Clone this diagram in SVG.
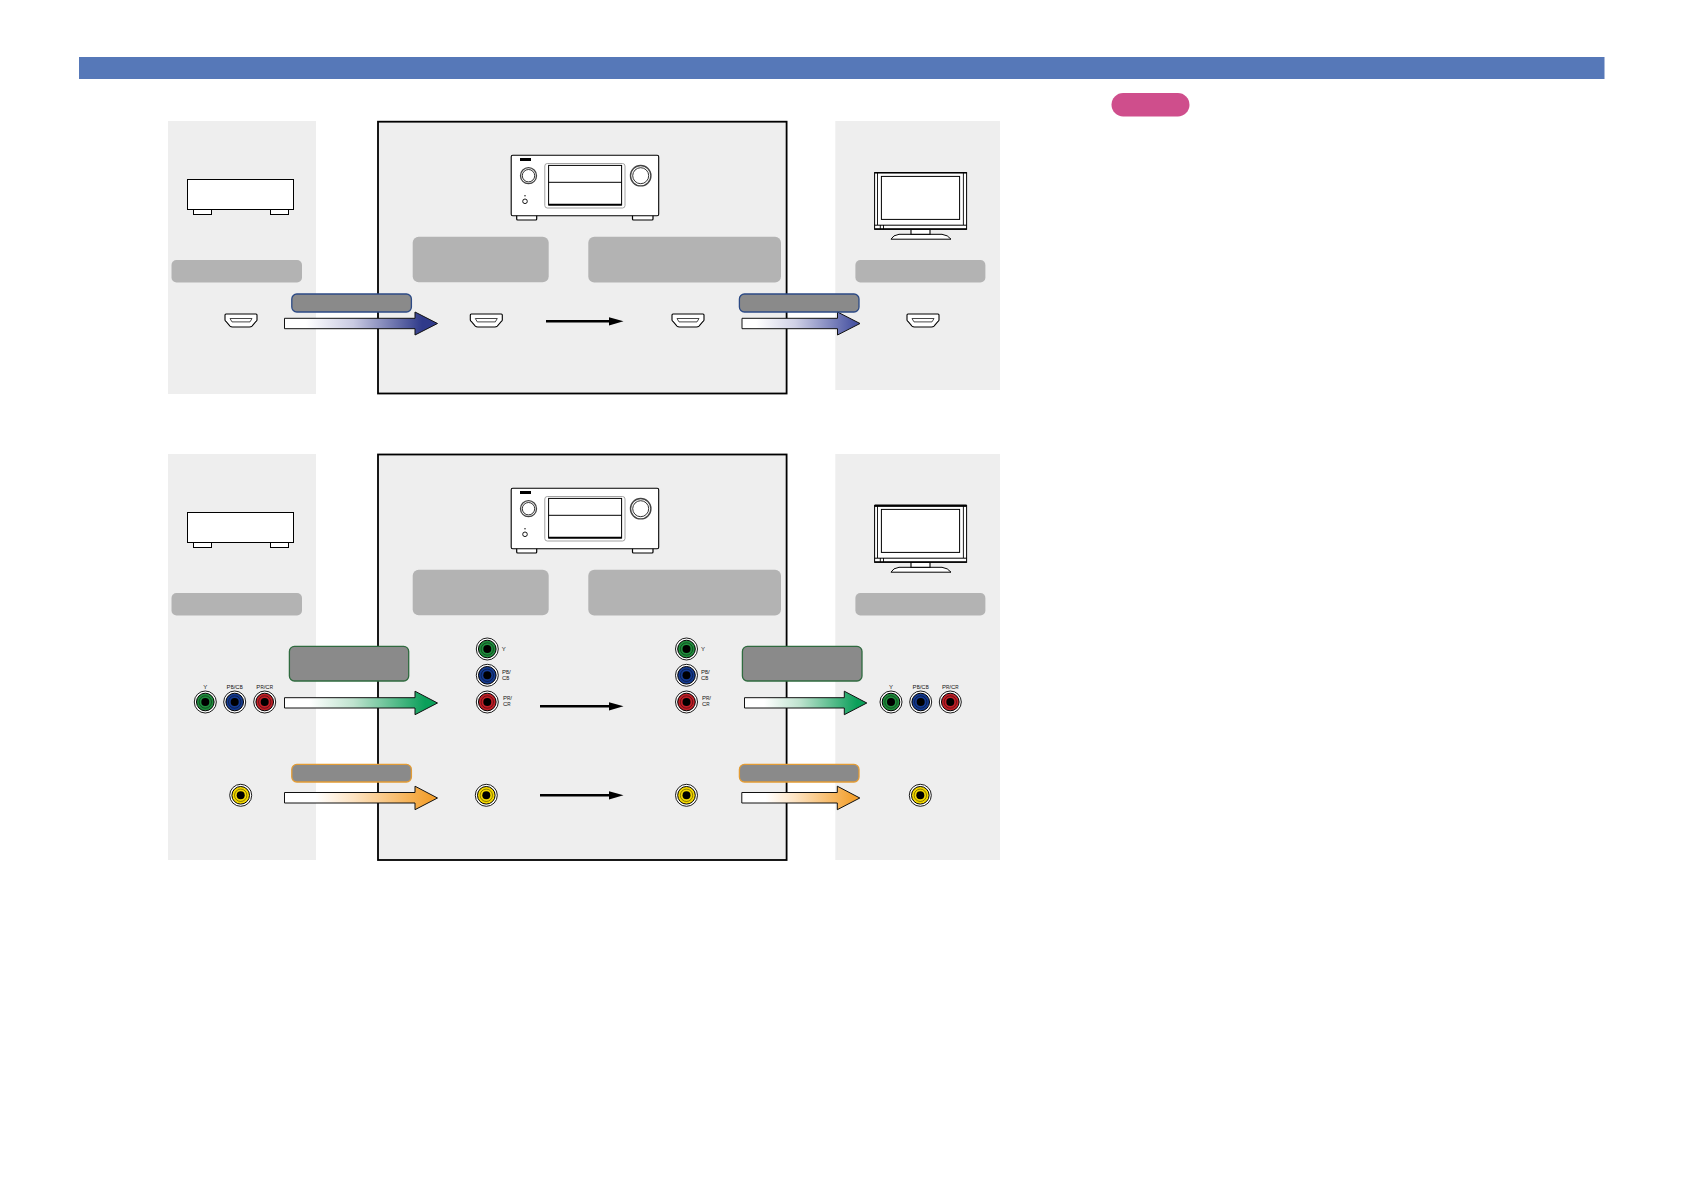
<svg xmlns="http://www.w3.org/2000/svg" width="1684" height="1191" viewBox="0 0 1684 1191">
<style>
.panel{fill:#eeeeee}
.frame{fill:#eeeeee;stroke:#000;stroke-width:1.8}
.tag{fill:#b3b3b3}
.ln{fill:#fff;stroke:#000;stroke-width:1}
.arrow{stroke:#111;stroke-width:1;stroke-linejoin:miter}
.dark{fill:#8a8a8a;stroke-width:1.3}
.flow{fill:none;stroke:#000;stroke-width:2.5}
.lab{font-family:"Liberation Sans",Arial,sans-serif;font-size:6px;fill:#111}
.sm{font-size:4.6px}
.mid{text-anchor:middle}
</style>
<defs>
<linearGradient id="gBlue"><stop offset="0.14" stop-color="#fff"/><stop offset="0.45" stop-color="#c9cae2"/><stop offset="0.9" stop-color="#2f3a8a"/></linearGradient>
<linearGradient id="gBlue2"><stop offset="0.12" stop-color="#fff"/><stop offset="0.45" stop-color="#d0d1e6"/><stop offset="0.95" stop-color="#4a55a3"/></linearGradient>
<linearGradient id="gGreen"><stop offset="0.16" stop-color="#fff"/><stop offset="0.45" stop-color="#bfe3cf"/><stop offset="0.92" stop-color="#0b9f5a"/></linearGradient>
<linearGradient id="gOrange"><stop offset="0.2" stop-color="#fff"/><stop offset="0.45" stop-color="#fde3c2"/><stop offset="0.95" stop-color="#f3a02e"/></linearGradient>
<marker id="head" markerUnits="userSpaceOnUse" markerWidth="15" markerHeight="9" refX="1" refY="4.5" orient="auto"><path d="M0,0.2L15,4.5L0,8.8Z" fill="#000"/></marker>
<g id="hdmi"><path d="M-15,-6.5H15Q16,-6.5 16,-5.5V-0.5Q16,0.4 15,0.9L11,5.6Q10,6.5 8.5,6.5H-8.5Q-10,6.5 -11,5.6L-15,0.9Q-16,0.4 -16,-0.5V-5.5Q-16,-6.5 -15,-6.5Z" fill="#fff" stroke="#000" stroke-width="1.1"/><path d="M-11,-2H11L9,1.4H-9Z" fill="#fff" stroke="#333" stroke-width="0.9"/></g>
<g id="jack"><circle r="11" fill="#fff" stroke="#000" stroke-width="0.9"/><circle r="8.8" stroke="#000" stroke-width="1"/><circle r="6.2" fill="none" stroke="#000" stroke-opacity="0.55" stroke-width="0.8"/><circle r="4" fill="#000"/></g>
<g id="box"><rect x="187.5" y="179.5" width="106" height="30" class="ln"/><rect x="193.5" y="209.5" width="18" height="5" class="ln"/><rect x="270.5" y="209.5" width="18" height="5" class="ln"/></g>
<g id="avr">
<rect x="516.7" y="214" width="20" height="6" rx="1" fill="#fff" stroke="#000" stroke-width="1.2"/>
<rect x="632.5" y="214" width="20.5" height="6" rx="1" fill="#fff" stroke="#000" stroke-width="1.2"/>
<rect x="511.2" y="155.2" width="147.5" height="60.5" rx="1.5" fill="#fff" stroke="#000" stroke-width="1.1"/>
<rect x="520" y="158" width="11" height="3" fill="#000"/>
<circle cx="528.5" cy="175.7" r="8" fill="#fff" stroke="#444" stroke-width="1.3"/><circle cx="528.5" cy="175.7" r="6.2" fill="#fff" stroke="#000" stroke-width="0.8"/>
<circle cx="640.7" cy="175.7" r="10.2" fill="#fff" stroke="#444" stroke-width="1.4"/><circle cx="640.7" cy="175.7" r="8" fill="#fff" stroke="#000" stroke-width="0.8"/>
<circle cx="525" cy="201.3" r="2.3" fill="#fff" stroke="#000" stroke-width="0.9"/><circle cx="525" cy="195.7" r="0.7" fill="#000"/>
<rect x="544.8" y="163.5" width="80.2" height="44.5" rx="2.5" fill="#fff" stroke="#999" stroke-width="0.9"/>
<rect x="548.6" y="165.4" width="73" height="39.6" fill="#fff" stroke="#000" stroke-width="1"/>
<path d="M548.6,182.3H621.6" stroke="#000" stroke-width="1" fill="none"/><path d="M548.6,204.7H621.6" stroke="#000" stroke-width="1.8" fill="none"/>
</g>
<g id="tv">
<path d="M891,239.2Q893,235 899,234.3H942Q948,235 951,239.2Z" fill="#fff" stroke="#000" stroke-width="1"/>
<rect x="911" y="229" width="19" height="5.3" fill="#fff" stroke="#000" stroke-width="1.1"/>
<rect x="874.6" y="172.6" width="92" height="56.7" fill="#fff" stroke="#000" stroke-width="1"/>
<path d="M874.6,172.8H966.6" stroke="#000" stroke-width="1.6" fill="none"/>
<path d="M877.5,172.6V225M963.4,172.6V225M880.3,225V229M883.5,225V229" stroke="#000" stroke-width="0.9" fill="none"/>
<path d="M874.6,225.2H966.6" stroke="#000" stroke-width="1" fill="none"/><path d="M874.6,229H966.6" stroke="#000" stroke-width="1.4" fill="none"/>
<rect x="881.4" y="176.4" width="78.2" height="43" fill="#fff" stroke="#000" stroke-width="1"/>
</g>
</defs>
<rect width="1684" height="1191" fill="#fff"/>
<g id="header"><rect x="79" y="57" width="1525.5" height="22" fill="#5678b8"/></g>
<g id="note"><rect x="1111.5" y="93" width="78" height="23.5" rx="11.7" fill="#cf4e8c"/></g>

<g id="source-hdmi">
<rect class="panel" x="168" y="121" width="148" height="273"/>
<use href="#box"/>
<rect class="tag" x="171.5" y="260" width="130.5" height="22.5" rx="5"/>
<use href="#hdmi" x="241" y="320.5"/>
</g>
<g id="receiver-hdmi">
<rect class="frame" x="378" y="121.7" width="408.6" height="271.8"/>
<use href="#avr"/>
<rect class="tag" x="412.7" y="236.8" width="136" height="45.5" rx="6"/>
<rect class="tag" x="588.3" y="236.8" width="192.7" height="45.8" rx="6"/>
<use href="#hdmi" x="486.3" y="320.5"/>
<use href="#hdmi" x="688" y="320.5"/>
</g>
<g id="tv-hdmi">
<rect class="panel" x="835.3" y="121" width="164.7" height="269"/>
<use href="#tv"/>
<rect class="tag" x="855.4" y="260" width="130" height="22.5" rx="5"/>
<use href="#hdmi" x="923" y="320.5"/>
</g>

<g id="source-analog">
<rect class="panel" x="168" y="454" width="148" height="406"/>
<use href="#box" y="333"/>
<rect class="tag" x="171.5" y="593" width="130.5" height="22.5" rx="5"/>
<use href="#jack" x="205.3" y="702" fill="#1f8c3c"/>
<use href="#jack" x="234.7" y="702" fill="#143a8f"/>
<use href="#jack" x="264.7" y="702" fill="#c01f27"/>
<use href="#jack" x="240.7" y="795.3" fill="#f4d800"/>
<text class="lab mid" x="205.3" y="688.8">Y</text>
<text class="lab mid" x="234.7" y="688.8">P<tspan class="sm">B</tspan>/C<tspan class="sm">B</tspan></text>
<text class="lab mid" x="264.7" y="688.8">P<tspan class="sm">R</tspan>/C<tspan class="sm">R</tspan></text>
</g>
<g id="receiver-analog">
<rect class="frame" x="378" y="454.5" width="408.6" height="405.5"/>
<use href="#avr" y="333"/>
<rect class="tag" x="412.7" y="569.8" width="136" height="45.5" rx="6"/>
<rect class="tag" x="588.3" y="569.8" width="192.7" height="45.8" rx="6"/>
<use href="#jack" x="487.3" y="649" fill="#1f8c3c"/>
<use href="#jack" x="487.3" y="675.3" fill="#143a8f"/>
<use href="#jack" x="487.3" y="702" fill="#c01f27"/>
<use href="#jack" x="486.3" y="795.3" fill="#f4d800"/>
<text class="lab" x="501.7" y="651">Y</text>
<text class="lab" x="502" y="673.5">P<tspan class="sm">B</tspan>/</text><text class="lab" x="502" y="679.5">C<tspan class="sm">B</tspan></text>
<text class="lab" x="503" y="700">P<tspan class="sm">R</tspan>/</text><text class="lab" x="503" y="706">C<tspan class="sm">R</tspan></text>
<use href="#jack" x="686.5" y="649" fill="#1f8c3c"/>
<use href="#jack" x="686.5" y="675.3" fill="#143a8f"/>
<use href="#jack" x="686.5" y="702" fill="#c01f27"/>
<use href="#jack" x="686.5" y="795.3" fill="#f4d800"/>
<text class="lab" x="701" y="651">Y</text>
<text class="lab" x="701" y="673.5">P<tspan class="sm">B</tspan>/</text><text class="lab" x="701" y="679.5">C<tspan class="sm">B</tspan></text>
<text class="lab" x="702" y="700">P<tspan class="sm">R</tspan>/</text><text class="lab" x="702" y="706">C<tspan class="sm">R</tspan></text>
</g>
<g id="tv-analog">
<rect class="panel" x="835.3" y="454" width="164.7" height="406"/>
<use href="#tv" y="333"/>
<path d="M874.6,505.6H966.6" stroke="#000" stroke-width="2.2" fill="none"/>
<rect class="tag" x="855.4" y="593" width="130" height="22.5" rx="5"/>
<use href="#jack" x="891" y="702" fill="#1f8c3c"/>
<use href="#jack" x="920.7" y="702" fill="#143a8f"/>
<use href="#jack" x="950.3" y="702" fill="#c01f27"/>
<use href="#jack" x="920.3" y="795.3" fill="#f4d800"/>
<text class="lab mid" x="891" y="688.8">Y</text>
<text class="lab mid" x="920.7" y="688.8">P<tspan class="sm">B</tspan>/C<tspan class="sm">B</tspan></text>
<text class="lab mid" x="950.3" y="688.8">P<tspan class="sm">R</tspan>/C<tspan class="sm">R</tspan></text>
</g>

<g id="connectors">
<path class="flow" d="M546,321.3H609.5" marker-end="url(#head)"/>
<path class="flow" d="M540,706.3H609.5" marker-end="url(#head)"/>
<path class="flow" d="M540,795.3H609.5" marker-end="url(#head)"/>

<path class="arrow" fill="url(#gBlue)" d="M284.5,318.3H415V312L437.5,323.5L415,335V328.7H284.5Z"/>
<path class="arrow" fill="url(#gBlue2)" d="M742,318.3H837.5V312L860,323.5L837.5,335V328.7H742Z"/>
<path class="arrow" fill="url(#gGreen)" d="M284.5,697.7H415V691.2L437.5,703L415,714.7V708H284.5Z"/>
<path class="arrow" fill="url(#gGreen)" d="M744.5,697.7H844.3V691.2L866.8,703L844.3,714.7V708H744.5Z"/>
<path class="arrow" fill="url(#gOrange)" d="M284.5,792.5H415V786.2L437.5,798L415,809.7V803H284.5Z"/>
<path class="arrow" fill="url(#gOrange)" d="M741.8,792.5H837.3V786.2L859.8,798L837.3,809.7V803H741.8Z"/>

<rect class="dark" stroke="#2c4a85" x="291.8" y="294" width="119.6" height="18" rx="5"/>
<rect class="dark" stroke="#2c4a85" x="739.4" y="294" width="119.6" height="18" rx="5"/>
<rect class="dark" stroke="#2f6b3f" x="289.4" y="646.4" width="119.3" height="34.6" rx="5"/>
<rect class="dark" stroke="#2f6b3f" x="742.4" y="646.4" width="119.6" height="34.6" rx="5"/>
<rect class="dark" stroke="#e39c35" x="291.8" y="764.4" width="119.6" height="17.6" rx="5"/>
<rect class="dark" stroke="#e39c35" x="739.4" y="764.4" width="119.6" height="17.6" rx="5"/>
</g>
</svg>
